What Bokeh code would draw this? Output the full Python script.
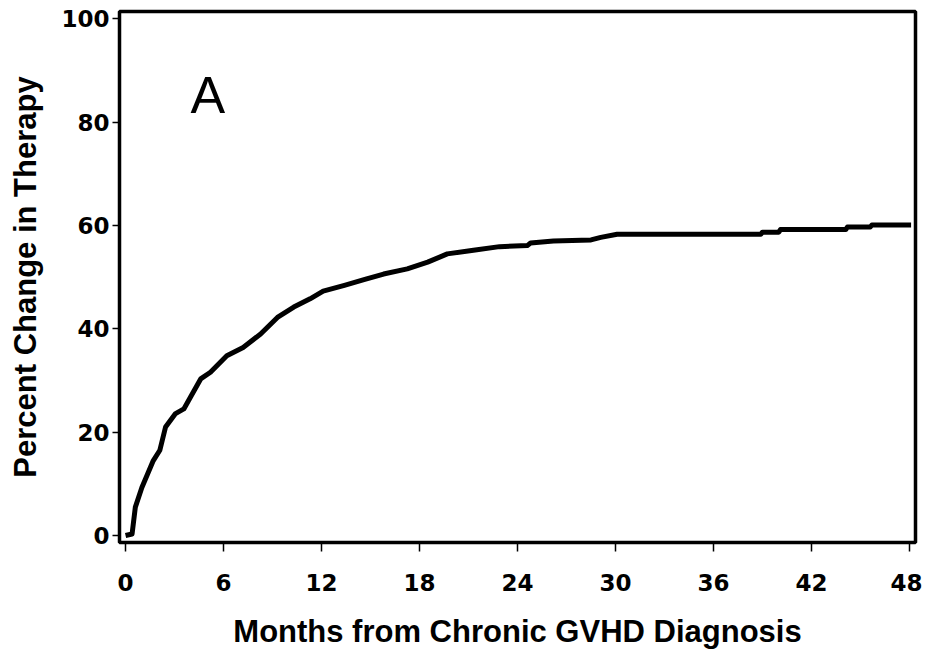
from bokeh.plotting import figure
from bokeh.models import Range1d, FixedTicker, Label
from bokeh.embed import file_html
from bokeh.resources import INLINE

# Data
months = [0.0, 0.4, 0.6, 1.0, 1.7, 2.1, 2.45, 3.06, 3.57, 3.98, 4.6, 5.2, 6.2, 7.2,
          8.27, 9.3, 10.3, 11.3, 12.1, 13.4, 14.6, 15.8, 17.25, 18.5, 19.7, 21.3,
          22.9, 24.6, 24.8, 26.2, 28.5, 29.1, 30.1, 38.9, 39.0, 40.0, 40.1, 44.1,
          44.2, 45.6, 45.7, 48.1]
percent = [0.0, 0.3, 5.5, 9.3, 14.5, 16.5, 21.0, 23.6, 24.5, 26.8, 30.3, 31.6, 34.8, 36.4,
           39.0, 42.2, 44.2, 45.8, 47.3, 48.4, 49.5, 50.6, 51.6, 52.9, 54.5, 55.2,
           55.9, 56.1, 56.6, 57.0, 57.2, 57.7, 58.3, 58.3, 58.7, 58.7, 59.2, 59.2,
           59.7, 59.7, 60.1, 60.1]
x_ticks = [0, 6, 12, 18, 24, 30, 36, 42, 48]
y_ticks = [0, 20, 40, 60, 80, 100]
x_title = "Months from Chronic GVHD Diagnosis"
y_title = "Percent Change in Therapy"
panel_label = "A"

p = figure(width=922, height=652,
           x_range=Range1d(-0.37, 48.37), y_range=Range1d(-1.35, 101.4),
           output_backend="svg", toolbar_location=None,
           min_border_left=119, min_border_right=7, min_border_top=11, min_border_bottom=110)

p.line(months, percent, line_color="black", line_width=5, line_join="round")

p.add_layout(Label(x=3.98, y=85.2, text=panel_label, text_font="Liberation Sans",
                   text_font_size="52px", text_color="black",
                   text_baseline="alphabetic", text_align="left"))

p.grid.visible = False
p.outline_line_color = "black"
p.outline_line_width = 3.5
p.outline_line_alpha = 1.0
p.background_fill_color = "white"
p.border_fill_color = "white"

for ax in (p.xaxis[0], p.yaxis[0]):
    ax.axis_line_color = None
    ax.major_tick_line_color = "black"
    ax.major_tick_line_width = 1.5
    ax.major_tick_in = 0
    ax.minor_tick_line_color = None
    ax.major_label_text_font = "DejaVu Sans"
    ax.major_label_text_font_style = "bold"
    ax.major_label_text_font_size = "23px"
    ax.major_label_text_color = "black"
    ax.axis_label_text_font = "Liberation Sans"
    ax.axis_label_text_font_style = "bold"
    ax.axis_label_text_font_size = "31px"
    ax.axis_label_text_color = "black"

p.xaxis[0].major_tick_out = 9
p.yaxis[0].major_tick_out = 7
p.xaxis[0].ticker = FixedTicker(ticks=x_ticks)
p.yaxis[0].ticker = FixedTicker(ticks=y_ticks)
p.xaxis[0].axis_label = x_title
p.yaxis[0].axis_label = y_title
p.xaxis[0].major_label_standoff = 22
p.xaxis[0].axis_label_standoff = 20
p.yaxis[0].major_label_standoff = 3
p.yaxis[0].axis_label_standoff = 15

open("out.html", "w").write(file_html(p, INLINE))
